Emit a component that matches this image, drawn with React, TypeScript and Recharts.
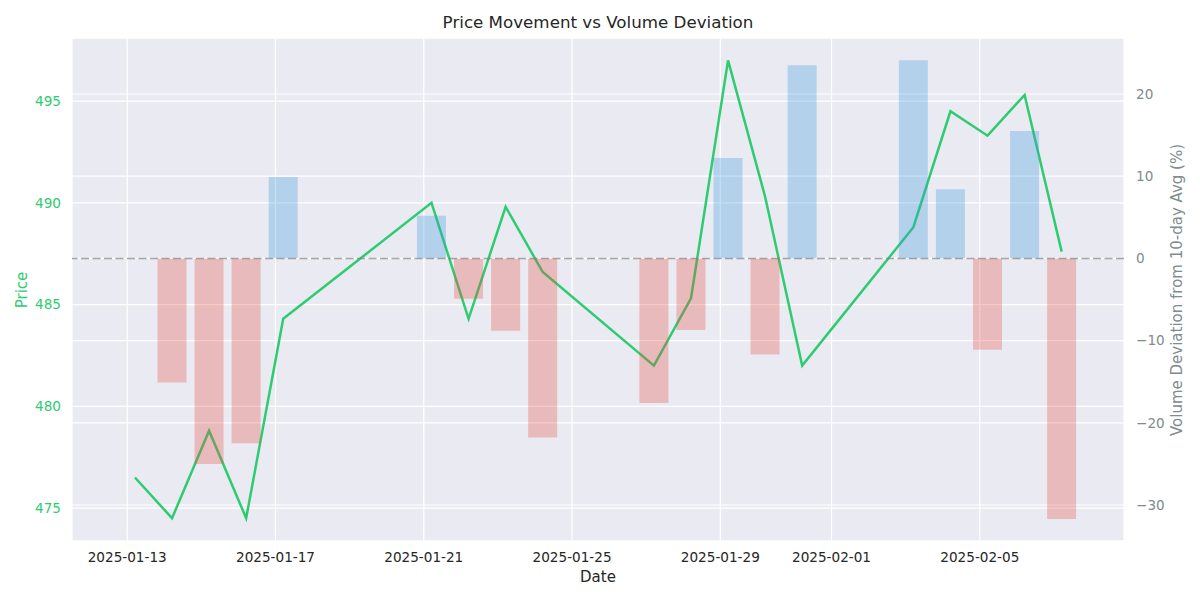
import * as React from "react"
import {
	Bar,
	CartesianGrid,
	Cell,
	ComposedChart,
	Line,
	ReferenceLine,
	XAxis,
	YAxis,
} from "recharts"

// trading days
const dates = [
	"2025-01-13", "2025-01-14", "2025-01-15", "2025-01-16", "2025-01-17",
	"2025-01-21", "2025-01-22", "2025-01-23", "2025-01-24",
	"2025-01-27", "2025-01-28", "2025-01-29", "2025-01-30", "2025-01-31",
	"2025-02-03", "2025-02-04", "2025-02-05", "2025-02-06", "2025-02-07",
]

const prices = [
	476.5, 474.5, 478.8, 474.5, 484.3,
	490.0, 484.3, 489.8, 486.6,
	482.0, 485.3, 497.0, 490.3, 482.0,
	488.8, 494.5, 493.3, 495.3, 487.6,
]

// % deviation from 10-day average volume (first day has none)
const volumeDeviation: (number | null)[] = [
	null, -15.1, -25.0, -22.5, 9.9,
	5.2, -4.9, -8.8, -21.8,
	-17.6, -8.7, 12.2, -11.7, 23.5,
	24.1, 8.4, -11.1, 15.5, -31.7,
]

const xTickDates = ["2025-01-13", "2025-01-17", "2025-01-21", "2025-01-25", "2025-01-29", "2025-02-01", "2025-02-05"]
const priceTicks = [475, 480, 485, 490, 495]
const volTicks = [-30, -20, -10, 0, 10, 20]

const DAY = 86400000
const toTime = (d: string) => Date.parse(d + "T00:00:00Z")
const t0 = toTime("2025-01-13")

const data = dates.map((d, i) => ({
	x: toTime(d) + 5 * 3600000,
	price: prices[i],
	vol: volumeDeviation[i],
}))

const FONT = "'DejaVu Sans', sans-serif"
const GREEN = "#2ecc71"
const GRAY = "#7f8c8d"
const DARK = "#262626"
const X_DOMAIN = [t0 - 1.49 * DAY, t0 + 26.89 * DAY]
const PRICE_DOMAIN = [473.38, 498.1]
const VOL_DOMAIN = [-34.38, 26.81]
const MARGIN = { top: 38, right: 0, bottom: 0, left: 0 }

const minus = (v: number) => String(v).replace("-", "\u2212")

// shared axes; `show` false keeps the same plot box but draws no ticks
const axes = (show: boolean) => [
	<XAxis
		key="x"
		dataKey="x"
		type="number"
		scale="linear"
		domain={X_DOMAIN}
		allowDataOverflow
		ticks={xTickDates.map(toTime)}
		tickFormatter={(v: number) => new Date(v).toISOString().slice(0, 10)}
		height={59}
		axisLine={false}
		tickLine={false}
		tickMargin={5}
		tick={show ? { fill: DARK, fontSize: 13.6, fontFamily: FONT } : false}
	/>,
	<YAxis
		key="left"
		yAxisId="left"
		orientation="left"
		width={72}
		domain={PRICE_DOMAIN}
		allowDataOverflow
		ticks={priceTicks}
		axisLine={false}
		tickLine={false}
		tickMargin={5}
		tick={show ? { fill: GREEN, fontSize: 13.6, fontFamily: FONT } : false}
	/>,
	<YAxis
		key="right"
		yAxisId="right"
		orientation="right"
		width={76}
		domain={VOL_DOMAIN}
		allowDataOverflow
		ticks={volTicks}
		tickFormatter={minus}
		axisLine={false}
		tickLine={false}
		tickMargin={6}
		tick={show ? { fill: GRAY, fontSize: 13.6, fontFamily: FONT, textAnchor: "start" } : false}
	/>,
]

const labelStyle: React.CSSProperties = {
	position: "absolute",
	top: 290,
	transform: "translate(-50%, -50%) rotate(-90deg)",
	fontSize: 15,
	whiteSpace: "nowrap",
	lineHeight: "20px",
}

export default function App() {
	return (
		<div style={{ position: "fixed", left: 0, top: 0, width: 1200, height: 600, background: "#fff", fontFamily: FONT }}>
			{/* price line sits under the volume bars, like the twin axis in the original */}
			<div style={{ position: "absolute", left: 0, top: 0 }}>
				<ComposedChart width={1200} height={600} data={data} margin={MARGIN}>
					<CartesianGrid yAxisId="left" fill="#eaeaf2" stroke="#ffffff" strokeWidth={1.2} />
					<CartesianGrid yAxisId="right" vertical={false} stroke="#ffffff" strokeWidth={1.2} />
					{axes(true)}
					<Line
						yAxisId="left"
						dataKey="price"
						type="linear"
						stroke={GREEN}
						strokeWidth={2.5}
						dot={false}
						activeDot={false}
						isAnimationActive={false}
					/>
				</ComposedChart>
			</div>
			<div style={{ position: "absolute", left: 0, top: 0 }}>
				<ComposedChart width={1200} height={600} data={data} margin={MARGIN}>
					{axes(false)}
					<Bar yAxisId="right" dataKey="vol" barSize={29} isAnimationActive={false}>
						{data.map((entry, index) => (
							<Cell
								key={`cell-${index}`}
								fill={(entry.vol ?? 0) >= 0 ? "#3498db" : "#e74c3c"}
								fillOpacity={0.3}
							/>
						))}
					</Bar>
					<ReferenceLine
						yAxisId="right"
						y={0}
						stroke="#808080"
						strokeOpacity={0.7}
						strokeWidth={1.5}
						strokeDasharray="8 3.5"
					/>
				</ComposedChart>
			</div>

			<div style={{ position: "absolute", left: 0, width: 1196, top: 12, textAlign: "center", fontSize: 16.7, color: DARK, lineHeight: "20px" }}>
				Price Movement vs Volume Deviation
			</div>
			<div style={{ position: "absolute", left: 0, width: 1196, top: 567, textAlign: "center", fontSize: 15, color: DARK, lineHeight: "20px" }}>
				Date
			</div>
			<div style={{ ...labelStyle, left: 22, color: GREEN }}>Price</div>
			<div style={{ ...labelStyle, left: 1177, color: GRAY }}>Volume Deviation from 10-day Avg (%)</div>
		</div>
	)
}
